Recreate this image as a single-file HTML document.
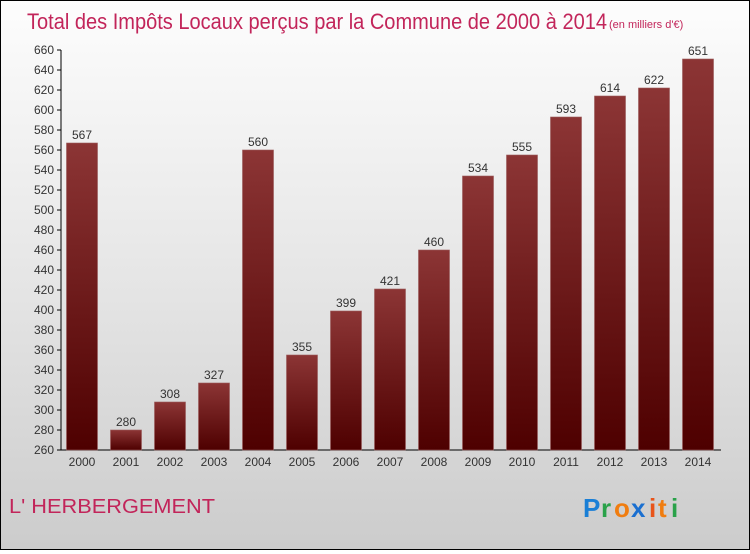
<!DOCTYPE html>
<html><head><meta charset="utf-8"><style>
html,body{margin:0;padding:0}
body{width:750px;height:550px;overflow:hidden;font-family:"Liberation Sans",sans-serif}
#wrap{position:absolute;left:0;top:0;width:748px;height:548px;border:1px solid #000;background:linear-gradient(#fdfdfd,#e6e6e6 50%,#cccccc)}
</style></head><body>
<div id="wrap">
<svg width="748" height="548" xmlns="http://www.w3.org/2000/svg">
<defs>
<linearGradient id="bg" x1="0" y1="0" x2="0" y2="1"><stop offset="0" stop-color="#8c3535"/><stop offset="1" stop-color="#4e0000"/></linearGradient>
</defs>
<text x="26" y="28" font-size="22" fill="#c2255a" textLength="580" lengthAdjust="spacingAndGlyphs">Total des Impôts Locaux perçus par la Commune de 2000 à 2014</text>
<text x="608" y="27" font-size="11" fill="#c2255a">(en milliers d'€)</text>
<g id="axes"></g>
<g id="bars"></g>
<text x="8" y="512" font-size="20" fill="#c2255a" textLength="206" lengthAdjust="spacingAndGlyphs">L' HERBERGEMENT</text>
<g font-size="26" font-weight="bold">
<text x="582" y="516" fill="#1a7fd6">P</text><text x="600" y="516" fill="#2aa24a">r</text><text x="613" y="516" fill="#f07d10">o</text><text x="630" y="516" fill="#1a6fd0">x</text><text x="648" y="516" fill="#e8541a">i</text><text x="657" y="516" fill="#f07d10">t</text><text x="670" y="516" fill="#2aa24a">i</text>
</g>
</svg>
</div>
<script>
const years=["2000","2001","2002","2003","2004","2005","2006","2007","2008","2009","2010","2011","2012","2013","2014"];
const values=[567,280,308,327,560,355,399,421,460,534,555,593,614,622,651];
const ticks=[260,280,300,320,340,360,380,400,420,440,460,480,500,520,540,560,580,600,620,640,660];
const NS="http://www.w3.org/2000/svg";
const yMin=260,yMax=660,yTop=49,yBot=449;
function y(v){return yBot-(v-yMin)/(yMax-yMin)*(yBot-yTop);}
function xc(i){return 81+i*44;}
function mk(t,a,p){const e=document.createElementNS(NS,t);for(const k in a)e.setAttribute(k,a[k]);p.appendChild(e);return e;}
const ax=document.getElementById('axes'),bg=document.getElementById('bars');
const yl=mk('line',{x1:60,y1:yTop,x2:60,y2:yBot,stroke:'#000'},ax);


const xl=mk('line',{x1:60,y1:yBot,x2:720,y2:yBot,stroke:'#000'},ax);


ticks.forEach(t=>{
 mk('line',{x1:56,y1:y(t),x2:60,y2:y(t),stroke:'#000'},ax);
 const tx=mk('text',{x:53,y:y(t)+4,'font-size':12,fill:'#333','text-anchor':'end'},ax);
 tx.textContent=t;
 
 
});
years.forEach((yr,i)=>{
 const v=values[i];
 const r=mk('rect',{x:xc(i)-15.5,y:y(v),width:31,height:yBot-y(v),fill:'url(#bg)',stroke:'#9a5a5a','stroke-width':0.6},bg);
 
 
 const lv=mk('text',{x:xc(i),y:y(v)-4,'font-size':12,fill:'#333','text-anchor':'middle'},bg);
 lv.textContent=v;
 
 
 const lx=mk('text',{x:xc(i),y:465,'font-size':12,fill:'#333','text-anchor':'middle'},bg);
 lx.textContent=yr;
 
 
});
</script>
</body></html>
